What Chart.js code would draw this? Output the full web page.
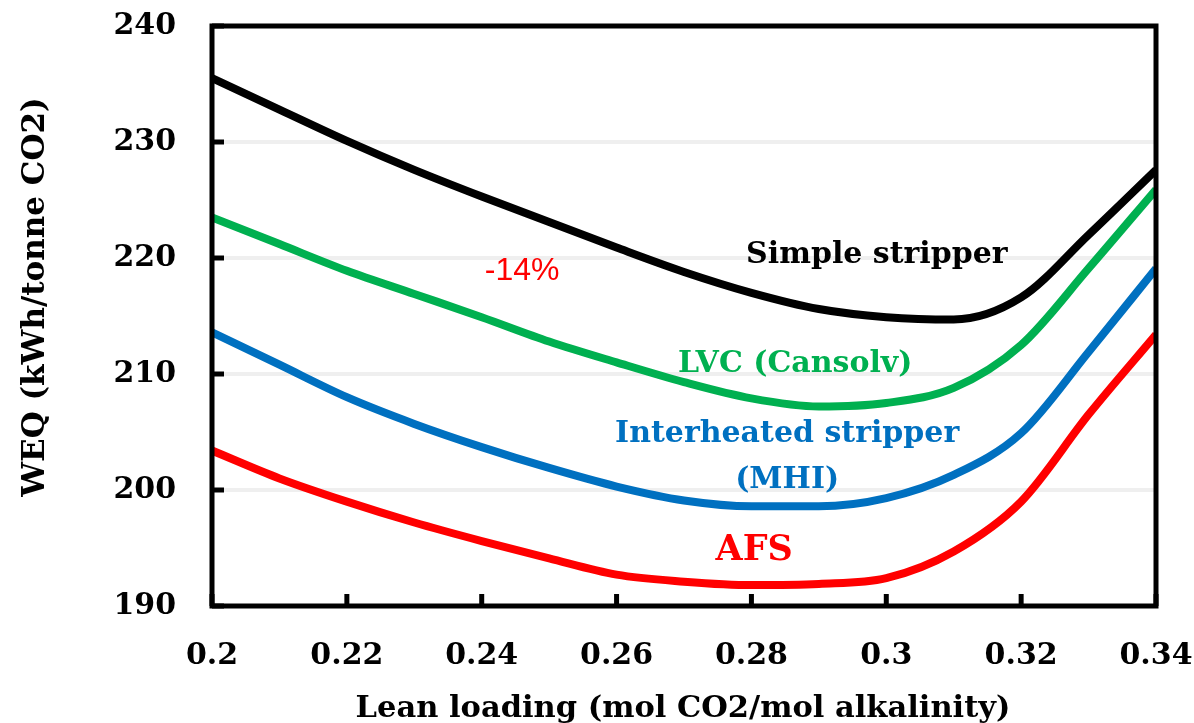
<!DOCTYPE html>
<html>
<head>
<meta charset="utf-8">
<script src="https://cdn.jsdelivr.net/npm/chart.js@4.4.1/dist/chart.umd.min.js"></script>
<style>
  html, body { margin: 0; padding: 0; background: #fff; }
  #wrap { width: 1194px; height: 723px; }
</style>
</head>
<body>
<div id="wrap"><canvas id="grafico"></canvas></div>
<script>
// lean loading values (x) shared by every curve
const loading = [0.20, 0.21, 0.22, 0.23, 0.24, 0.25, 0.26, 0.27, 0.28, 0.29, 0.30, 0.31, 0.32, 0.33, 0.34];

// WEQ, kWh/tonne CO2
const simpleStripper = [235.5, 232.8, 230.1, 227.6, 225.3, 223.1, 220.9, 218.8, 217.0, 215.6, 214.9, 214.7, 216.6, 222.0, 227.6];
const lvcCansolv     = [223.5, 221.2, 218.9, 216.9, 214.9, 212.8, 211.0, 209.3, 207.9, 207.2, 207.5, 208.8, 212.5, 219.1, 225.9];
const interheated    = [213.6, 210.8, 208.0, 205.7, 203.7, 201.9, 200.3, 199.1, 198.6, 198.6, 199.3, 201.3, 204.9, 211.9, 219.1];
const afs            = [203.4, 201.0, 199.0, 197.2, 195.6, 194.1, 192.7, 192.1, 191.8, 191.9, 192.4, 194.7, 199.0, 206.5, 213.4];

const xTicks = [0.2, 0.22, 0.24, 0.26, 0.28, 0.3, 0.32, 0.34];
const yTicks = [190, 200, 210, 220, 230, 240];

const xTitle = 'Lean loading (mol CO2/mol alkalinity)';
const yTitle = 'WEQ (kWh/tonne CO2)';

const serif = '"DejaVu Serif", "Liberation Serif", serif';

// text drawn inside the plot, placed in data units (y = baseline)
const notes = [
    { text: 'Simple stripper', x: 0.2986, y: 219.6, color: '#000000', font: 'bold 30px ' + serif },
    { text: 'LVC (Cansolv)', x: 0.2865, y: 210.2, color: '#00B050', font: 'bold 30px ' + serif },
    { text: 'Interheated stripper', x: 0.2853, y: 204.1, color: '#0070C0', font: 'bold 30px ' + serif },
    { text: '(MHI)', x: 0.2853, y: 200.2, color: '#0070C0', font: 'bold 30px ' + serif },
    { text: 'AFS', x: 0.2804, y: 194.0, color: '#FF0000', font: 'bold 35px ' + serif },
    { text: '-14%', x: 0.2460, y: 218.1, color: '#FF0000', font: '32px "Liberation Sans", Arial, sans-serif' }
];

function pts(ys) {
    return loading.map((x, i) => ({ x: x, y: ys[i] }));
}

function serie(label, ys, color) {
    return {
        label: label,
        data: pts(ys),
        borderColor: color,
        borderWidth: 8,
        pointRadius: 0,
        cubicInterpolationMode: 'monotone',
        fill: false
    };
}

const moldura = {
    id: 'moldura',
    afterDatasetsDraw(chart) {
        const c = chart.ctx;
        const a = chart.chartArea;
        const sx = chart.scales.x;
        const sy = chart.scales.y;
        c.save();
        c.strokeStyle = '#000';
        c.lineWidth = 5;
        // inner tick marks
        xTicks.forEach(v => {
            const px = sx.getPixelForValue(v);
            c.beginPath();
            c.moveTo(px, a.bottom);
            c.lineTo(px, a.bottom - 12);
            c.stroke();
        });
        yTicks.forEach(v => {
            const py = sy.getPixelForValue(v);
            c.beginPath();
            c.moveTo(a.left, py);
            c.lineTo(a.left + 12, py);
            c.stroke();
        });
        c.strokeRect(a.left, a.top, a.right - a.left, a.bottom - a.top);

        c.textAlign = 'center';
        c.textBaseline = 'alphabetic';
        notes.forEach(n => {
            c.font = n.font;
            c.fillStyle = n.color;
            c.fillText(n.text, sx.getPixelForValue(n.x), sy.getPixelForValue(n.y));
        });

        // axis titles
        c.fillStyle = '#000';
        c.font = 'bold 30.5px ' + serif;
        c.fillText(xTitle, (a.left + a.right) / 2 - 1, 717);
        c.translate(44, 297);
        c.rotate(-Math.PI / 2);
        c.font = 'bold 31px ' + serif;
        c.fillText(yTitle, 0, 0);
        c.restore();
    }
};

const ctx = document.getElementById('grafico');

const grafico = new Chart(ctx, {
    type: 'line',
    data: {
        datasets: [
            serie('Simple stripper', simpleStripper, '#000000'),
            serie('LVC (Cansolv)', lvcCansolv, '#00B050'),
            serie('Interheated stripper (MHI)', interheated, '#0070C0'),
            serie('AFS', afs, '#FF0000')
        ]
    },
    options: {
        responsive: true,
        maintainAspectRatio: false,
        animation: false,
        layout: { padding: { left: 0, top: 26, right: 38, bottom: 0 } },
        plugins: {
            legend: { display: false },
            tooltip: { enabled: false }
        },
        scales: {
            x: {
                type: 'linear',
                min: 0.2,
                max: 0.34,
                afterBuildTicks: s => { s.ticks = xTicks.map(v => ({ value: v })); },
                afterFit: s => {
                    s.height = 117;
                    s.paddingLeft = 0;
                    s.paddingRight = 0;
                },
                grid: { display: false, drawTicks: false },
                border: { display: false },
                ticks: {
                    color: '#000',
                    padding: 32,
                    maxRotation: 0,
                    font: { family: serif, weight: 'bold', size: 30 },
                    callback: v => String(Number(v.toFixed(2)))
                }
            },
            y: {
                min: 190,
                max: 240,
                afterBuildTicks: s => { s.ticks = yTicks.map(v => ({ value: v })); },
                afterFit: s => {
                    s.width = 212;
                    s.paddingTop = 0;
                    s.paddingBottom = 0;
                },
                grid: {
                    drawTicks: false,
                    lineWidth: 4,
                    color: c2 => (c2.tick && (c2.tick.value === 190 || c2.tick.value === 240)) ? 'rgba(0,0,0,0)' : '#EFEFEF'
                },
                border: { display: false },
                ticks: {
                    color: '#000',
                    padding: 36,
                    font: { family: serif, weight: 'bold', size: 30 }
                }
            }
        }
    },
    plugins: [moldura]
});
</script>
</body>
</html>
